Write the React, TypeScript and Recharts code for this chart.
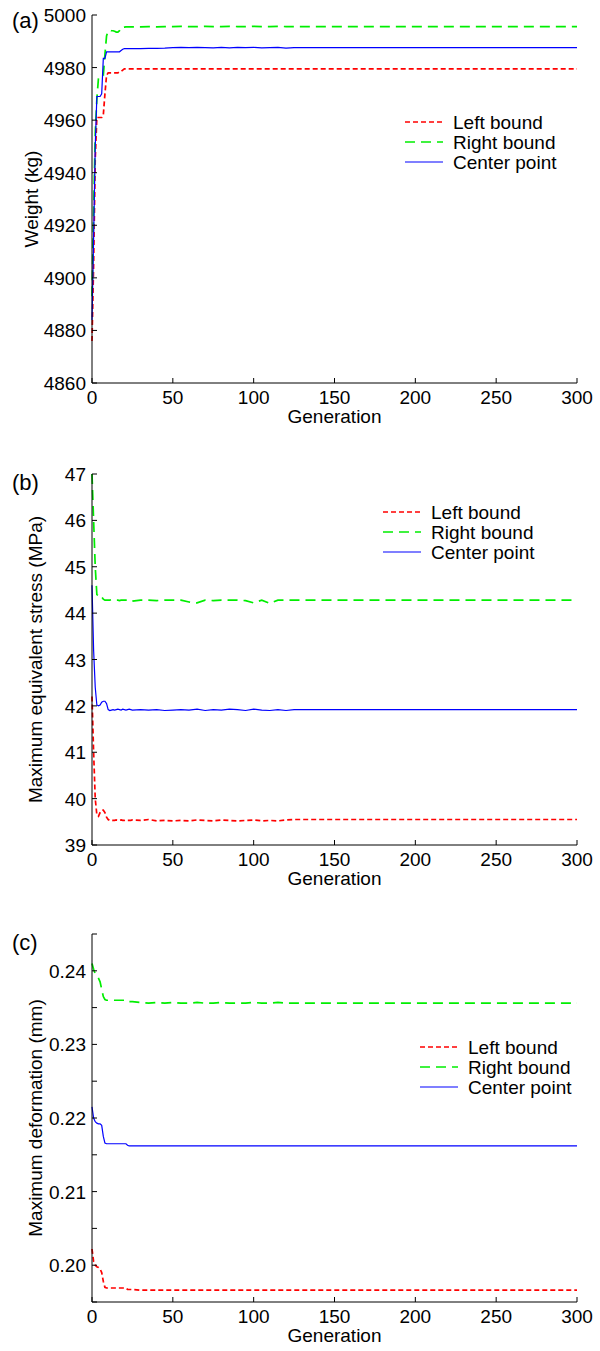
import React from 'react';
import { LineChart, Line, XAxis, YAxis } from 'recharts';

const FONT = '"Liberation Sans", Arial, Helvetica, sans-serif';

const generation = [
  0, 1, 2, 3, 4, 5, 6, 7, 8, 9, 10, 11, 12, 13, 14, 15, 16, 17, 18, 19, 20, 21, 22, 23, 24, 25,
  30, 35, 40, 45, 50, 55, 60, 65, 70, 75, 80, 85, 90, 95, 100, 105, 110, 115, 120, 125,
  150, 200, 250, 300,
];
const genTicks = [0, 50, 100, 150, 200, 250, 300];

// (a) weight, kg
const weightLeft = [
  4876, 4905, 4945, 4961, 4961, 4961, 4961, 4962, 4970, 4977, 4978, 4978, 4978, 4978, 4978, 4978, 4978, 4978.5, 4978.5, 4979, 4979.5, 4979.5, 4979.5, 4979.5, 4979.5, 4979.5,
  4979.5, 4979.5, 4979.5, 4979.5, 4979.5, 4979.5, 4979.5, 4979.5, 4979.5, 4979.5, 4979.5, 4979.5, 4979.5, 4979.5, 4979.5, 4979.5, 4979.5, 4979.5, 4979.5, 4979.5,
  4979.5, 4979.5, 4979.5, 4979.5,
];
const weightRight = [
  4893, 4925, 4955, 4968, 4976, 4976, 4976.5, 4977, 4985, 4992, 4994, 4994.2, 4994, 4994, 4993.8, 4993.5, 4993.5, 4994, 4995.3, 4995.3, 4995.4, 4995.5, 4995.5, 4995.5, 4995.5, 4995.5,
  4995.5, 4995.6, 4995.5, 4995.6, 4995.6, 4995.7, 4995.6, 4995.6, 4995.7, 4995.6, 4995.6, 4995.7, 4995.6, 4995.6, 4995.7, 4995.6, 4995.6, 4995.7, 4995.6, 4995.6,
  4995.6, 4995.6, 4995.6, 4995.6,
];
const weightCenter = [
  4884, 4915, 4950, 4969, 4969, 4969, 4970, 4983.5, 4983.5, 4986, 4986, 4986, 4986, 4986, 4986, 4986, 4986, 4986, 4986.5, 4987, 4987.2, 4987.2, 4987.2, 4987.2, 4987.2, 4987.2,
  4987.2, 4987.3, 4987.3, 4987.4, 4987.6, 4987.7, 4987.6, 4987.7, 4987.6, 4987.5, 4987.7, 4987.5, 4987.7, 4987.6, 4987.7, 4987.5, 4987.6, 4987.7, 4987.4, 4987.6,
  4987.6, 4987.6, 4987.6, 4987.6,
];
const weightTicks = [4860, 4880, 4900, 4920, 4940, 4960, 4980, 5000];

// (b) maximum equivalent stress, MPa
const stressLeft = [
  42.2, 41.0, 40.0, 39.65, 39.62, 39.7, 39.75, 39.75, 39.7, 39.6, 39.55, 39.53, 39.52, 39.53, 39.53, 39.54, 39.53, 39.53, 39.54, 39.53, 39.53, 39.54, 39.53, 39.53, 39.53, 39.54,
  39.53, 39.55, 39.52, 39.53, 39.52, 39.53, 39.52, 39.54, 39.53, 39.52, 39.54, 39.53, 39.52, 39.53, 39.54, 39.52, 39.53, 39.52, 39.54, 39.55,
  39.55, 39.55, 39.55, 39.55,
];
const stressRight = [
  47.0, 46.0, 45.0, 44.4, 44.38, 44.4, 44.35, 44.3, 44.28, 44.28, 44.28, 44.28, 44.29, 44.28, 44.28, 44.28, 44.28, 44.27, 44.28, 44.28, 44.28, 44.28, 44.28, 44.27, 44.25, 44.26,
  44.28, 44.28, 44.27, 44.28, 44.28, 44.28, 44.24, 44.22, 44.28, 44.27, 44.28, 44.28, 44.28, 44.27, 44.22, 44.28, 44.21, 44.28, 44.28, 44.28,
  44.28, 44.28, 44.28, 44.28,
];
const stressCenter = [
  44.6, 43.2, 42.4, 42.02, 42.0, 42.02, 42.08, 42.1, 42.1, 42.05, 41.92, 41.9, 41.91, 41.92, 41.91, 41.92, 41.93, 41.92, 41.91, 41.93, 41.92, 41.91, 41.92, 41.93, 41.92, 41.91,
  41.92, 41.91, 41.92, 41.9, 41.91, 41.92, 41.91, 41.93, 41.9, 41.92, 41.91, 41.93, 41.92, 41.9, 41.93, 41.91, 41.9, 41.92, 41.9, 41.92,
  41.92, 41.92, 41.92, 41.92,
];
const stressTicks = [39, 40, 41, 42, 43, 44, 45, 46, 47];

// (c) maximum deformation, mm
const deformLeft = [
  0.2022, 0.2005, 0.2, 0.1998, 0.1997, 0.1995, 0.199, 0.1978, 0.197, 0.1969, 0.1969, 0.1969, 0.1969, 0.1969, 0.1969, 0.1969, 0.1969, 0.1969, 0.1969, 0.1969, 0.1969, 0.1969, 0.1967, 0.1967, 0.1967, 0.1967,
  0.1966, 0.1966, 0.1966, 0.1966, 0.1966, 0.1966, 0.1966, 0.1966, 0.1966, 0.1966, 0.1966, 0.1966, 0.1966, 0.1966, 0.1966, 0.1966, 0.1966, 0.1966, 0.1966, 0.1966,
  0.1966, 0.1966, 0.1966, 0.1966,
];
const deformRight = [
  0.241, 0.2402, 0.2396, 0.2394, 0.239, 0.2385, 0.2375, 0.2365, 0.2361, 0.236, 0.236, 0.236, 0.236, 0.236, 0.236, 0.236, 0.236, 0.236, 0.236, 0.236, 0.236, 0.236, 0.2358, 0.2358, 0.2358, 0.2358,
  0.2357, 0.2356, 0.2357, 0.2356, 0.2357, 0.2356, 0.2356, 0.2357, 0.2356, 0.2356, 0.2357, 0.2356, 0.2356, 0.2356, 0.2357, 0.2356, 0.2356, 0.2357, 0.2356, 0.2356,
  0.2356, 0.2356, 0.2356, 0.2356,
];
const deformCenter = [
  0.2215, 0.22, 0.2195, 0.2193, 0.2192, 0.2192, 0.219, 0.2175, 0.2166, 0.2165, 0.2165, 0.2165, 0.2165, 0.2165, 0.2165, 0.2165, 0.2165, 0.2165, 0.2165, 0.2165, 0.2165, 0.2165, 0.2163, 0.2162, 0.2162, 0.2162,
  0.2162, 0.2162, 0.2162, 0.2162, 0.2162, 0.2162, 0.2162, 0.2162, 0.2162, 0.2162, 0.2162, 0.2162, 0.2162, 0.2162, 0.2162, 0.2162, 0.2162, 0.2162, 0.2162, 0.2162,
  0.2162, 0.2162, 0.2162, 0.2162,
];
const deformTicks = [0.195, 0.2, 0.205, 0.21, 0.215, 0.22, 0.225, 0.23, 0.235, 0.24, 0.245];
const deformLabels = ['', '0.20', '', '0.21', '', '0.22', '', '0.23', '', '0.24', ''];

const seriesNames = ['Left bound', 'Right bound', 'Center point'];

const SERIES = [
  { key: 'left', color: '#ff0000', dash: '5 3', width: 1.7 },
  { key: 'right', color: '#00ee00', dash: '10 6', width: 1.7 },
  { key: 'center', color: '#0000ff', dash: undefined, width: 1.2 },
];

const FS = 19;

const buildRows = (l: number[], r: number[], c: number[]) =>
  generation.map((g, i) => ({ generation: g, left: l[i], right: r[i], center: c[i] }));

const XTick = (props: any) => {
  const { x, y, payload } = props;
  return (
    <g>
      <line x1={x} y1={y} x2={x} y2={y - 5} stroke="#000" strokeWidth={1} />
      <text x={x} y={y + 21} textAnchor="middle" fontSize={FS} fontFamily={FONT} fill="#000">
        {payload.value}
      </text>
    </g>
  );
};

const makeYTick = (label: (v: number, i: number) => string) => (props: any) => {
  const { x, y, payload, index } = props;
  return (
    <g>
      <line x1={x} y1={y} x2={x + 5} y2={y} stroke="#000" strokeWidth={1} />
      <text x={x - 6} y={y + 7} textAnchor="end" fontSize={FS} fontFamily={FONT} fill="#000">
        {label(payload.value, index)}
      </text>
    </g>
  );
};

interface PanelProps {
  top: number;
  height: number;
  plotTop: number;
  plotBottom: number;
  rows: any[];
  domain: [number, number];
  ticks: number[];
  tickLabel: (v: number, i: number) => string;
  letter: string;
  letterY: number;
  yTitle: string;
  yTitleX: number;
  legendX: number;
  legendY: number;
}

const PLOT_LEFT = 92;
const PLOT_RIGHT = 577;
const X_AXIS_H = 40;

const Panel = (p: PanelProps) => {
  const midY = (p.plotTop + p.plotBottom) / 2;
  return (
    <div style={{ position: 'absolute', left: 0, top: p.top, width: 600, height: p.height }}>
      <LineChart
        width={600}
        height={p.height}
        data={p.rows}
        margin={{ top: p.plotTop, right: 600 - PLOT_RIGHT, left: 0, bottom: p.height - p.plotBottom - X_AXIS_H }}
      >
        <XAxis
          dataKey="generation"
          type="number"
          domain={[0, 300]}
          ticks={genTicks}
          interval={0}
          tickSize={0}
          tickMargin={0}
          tickLine={false}
          tick={XTick}
          axisLine={{ stroke: '#000', strokeWidth: 1 }}
          height={X_AXIS_H}
        />
        <YAxis
          type="number"
          domain={p.domain}
          ticks={p.ticks}
          interval={0}
          allowDataOverflow
          tickSize={0}
          tickMargin={0}
          tickLine={false}
          tick={makeYTick(p.tickLabel)}
          axisLine={{ stroke: '#000', strokeWidth: 1 }}
          width={PLOT_LEFT}
        />
        {SERIES.map((s, i) => (
          <Line
            key={s.key}
            type="linear"
            dataKey={s.key}
            name={seriesNames[i]}
            stroke={s.color}
            strokeWidth={s.width}
            strokeDasharray={s.dash}
            dot={false}
            activeDot={false}
            isAnimationActive={false}
          />
        ))}
      </LineChart>
      <svg
        width={600}
        height={p.height}
        style={{ position: 'absolute', left: 0, top: 0, pointerEvents: 'none' }}
        fontFamily={FONT}
      >
        <text x={12} y={p.letterY + 8} fontSize={22} fill="#000">{p.letter}</text>
        <text
          x={p.yTitleX}
          y={midY}
          transform={`rotate(-90 ${p.yTitleX} ${midY})`}
          textAnchor="middle"
          fontSize={FS}
          fill="#000"
        >
          {p.yTitle}
        </text>
        <text x={(PLOT_LEFT + PLOT_RIGHT) / 2} y={p.plotBottom + 40} textAnchor="middle" fontSize={FS} fill="#000">
          Generation
        </text>
        {SERIES.map((s, i) => (
          <g key={s.key}>
            <line
              x1={p.legendX}
              x2={p.legendX + 38}
              y1={p.legendY + i * 20}
              y2={p.legendY + i * 20}
              stroke={s.color}
              strokeWidth={s.width}
              strokeDasharray={s.dash}
            />
            <text x={p.legendX + 48} y={p.legendY + i * 20 + 7} fontSize={FS} fill="#000">
              {seriesNames[i]}
            </text>
          </g>
        ))}
      </svg>
    </div>
  );
};

export default function App() {
  return (
    <div style={{ position: 'absolute', left: 0, top: 0, width: 600, height: 1351, background: '#fff' }}>
      <Panel
        top={0}
        height={460}
        plotTop={15}
        plotBottom={383}
        rows={buildRows(weightLeft, weightRight, weightCenter)}
        domain={[4860, 5000]}
        ticks={weightTicks}
        tickLabel={(v) => String(v)}
        letter="(a)"
        letterY={20}
        yTitle="Weight (kg)"
        yTitleX={38}
        legendX={405}
        legendY={122}
      />
      <Panel
        top={460}
        height={460}
        plotTop={14}
        plotBottom={385}
        rows={buildRows(stressLeft, stressRight, stressCenter)}
        domain={[39, 47]}
        ticks={stressTicks}
        tickLabel={(v) => String(v)}
        letter="(b)"
        letterY={22}
        yTitle="Maximum equivalent stress (MPa)"
        yTitleX={42}
        legendX={383}
        legendY={52}
      />
      <Panel
        top={920}
        height={431}
        plotTop={14}
        plotBottom={382}
        rows={buildRows(deformLeft, deformRight, deformCenter)}
        domain={[0.195, 0.245]}
        ticks={deformTicks}
        tickLabel={(v, i) => deformLabels[i] ?? ''}
        letter="(c)"
        letterY={22}
        yTitle="Maximum deformation (mm)"
        yTitleX={42}
        legendX={420}
        legendY={127}
      />
    </div>
  );
}
